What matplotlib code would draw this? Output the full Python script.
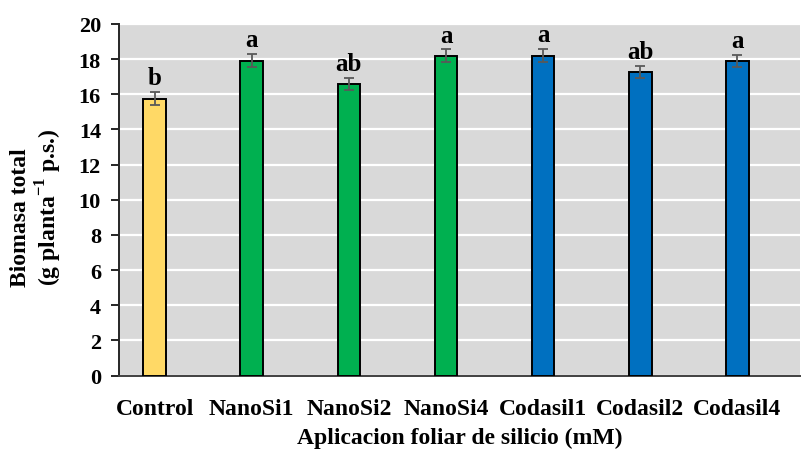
import matplotlib
matplotlib.use('Agg')
import matplotlib.pyplot as plt
import numpy as np

# ---- data ----
categories = ['Control', 'NanoSi1', 'NanoSi2', 'NanoSi4', 'Codasil1', 'Codasil2', 'Codasil4']
biomasa = [15.75, 17.9, 16.6, 18.2, 18.2, 17.25, 17.9]
err = [0.36, 0.37, 0.35, 0.35, 0.36, 0.35, 0.35]
letras = ['b', 'a', 'ab', 'a', 'a', 'ab', 'a']
colores = ['#FFD966', '#00B050', '#00B050', '#00B050', '#0070C0', '#0070C0', '#0070C0']
yticks = list(range(0, 21, 2))

plt.rcParams['font.family'] = ['Liberation Serif', 'DejaVu Serif']
plt.rcParams['font.weight'] = 'bold'
plt.rcParams['mathtext.fontset'] = 'custom'
plt.rcParams['mathtext.rm'] = 'Liberation Serif:bold'
plt.rcParams['mathtext.bf'] = 'Liberation Serif:bold'

fig = plt.figure(figsize=(8.01, 4.52), dpi=100)
ax = fig.add_axes([119/801, 75.5/452, 681/801, 351.5/452])
ax.set_facecolor('#D9D9D9')

x = np.arange(len(categories))
ax.bar(x, biomasa, width=0.234, color=colores, edgecolor='black', linewidth=1.4, zorder=3)
ax.errorbar(x, biomasa, yerr=err, fmt='none', ecolor='#595959', elinewidth=1.3,
            capsize=3.5, capthick=1.3, zorder=4)
for xi, v, e, t in zip(x, biomasa, err, letras):
    ax.text(xi, v + e + 0.45, t, ha='center', va='baseline', fontsize=18, fontweight='bold')

ax.set_ylim(0, 20)
ax.set_xlim(-0.368, 6.646)
ax.set_yticks(yticks)
ax.yaxis.grid(True, color='white', linewidth=1.6, zorder=0)
ax.set_axisbelow(True)
ax.set_xticks(x)
ax.set_xticklabels(categories, fontsize=17, fontweight='bold')
ax.tick_params(axis='x', length=0, pad=16)
ax.tick_params(axis='y', direction='out', length=6, width=1.2, labelsize=16, pad=7)
for s in ['top', 'right']:
    ax.spines[s].set_visible(False)
ax.spines['left'].set_color('#262626')
ax.spines['left'].set_linewidth(1.4)
ax.spines['bottom'].set_color('#404040')
ax.spines['bottom'].set_linewidth(1.4)

ax.set_xlabel('Aplicacion foliar de silicio (mM)', fontsize=17, fontweight='bold', labelpad=6)
fig.text(21/801, 1 - 218/452, 'Biomasa total', rotation=90, ha='center', va='center',
         fontsize=17, fontweight='bold')
fig.text(49/801, 1 - 207/452, '(g planta$^{-1}$ p.s.)', rotation=90, ha='center', va='center',
         fontsize=17, fontweight='bold')

fig.savefig('out.png', dpi=100)
